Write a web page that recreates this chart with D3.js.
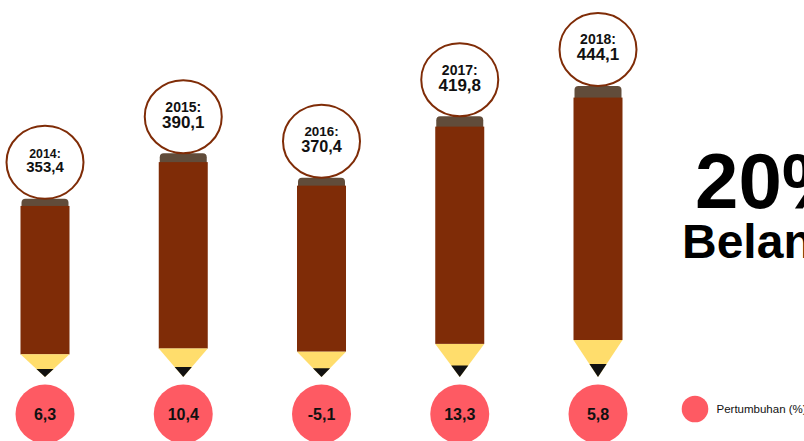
<!DOCTYPE html>
<html lang="id">
<head>
  <meta charset="UTF-8">
  <title>Anggaran Pendidikan</title>
  <style>
    body { margin: 0; background: #fff; overflow: hidden; }
    svg { display: block; font-family: "Liberation Sans", Arial, sans-serif; }
  </style>
</head>
<body>
  <svg id="svg" width="804" height="441"></svg>
  <script src="https://d3js.org/d3.v7.min.js"></script>
  <script>
    // data
    const years = ['2014', '2015', '2016', '2017', '2018']
    const values = [353.4, 390.1, 370.4, 419.8, 444.1]
    const growth = [6.3, 10.4, -5.1, 13.3, 5.8]
    const bigText = ['20%', 'Belanja']
    const legendLabel = 'Pertumbuhan (%)'

    const data = years.map((y, i) => ({ year: y, value: values[i], growth: growth[i] }))

    const idLocale = d3.formatLocale({ decimal: ',', thousands: '.', grouping: [3], currency: ['Rp', ''], minus: '-' })
    const fmt = idLocale.format('.1f')

    const brown = '#7f2c07'
    const eraser = '#614c3a'
    const wood = '#ffdd6c'
    const red = '#fe5a63'

    const svg = d3.select('#svg')

    // x scale: pencil centres
    const xscale = d3.scalePoint()
      .domain(years)
      .range([45, 598])

    // y scale: top of the pencil (eraser top), tip sits on a fixed line
    const tipY = 377
    const yscale = d3.scaleLinear()
      .domain([300, 450])
      .range([265.3, 78.6])

    // label size grows a little with the value
    const labelScale = d3.scaleLinear()
      .domain([353.4, 380])
      .range([0.88, 1])
      .clamp(true)

    const halfW = 24.5

    const pencils = svg.append('g')
      .selectAll('g')
      .data(data)
      .enter()
      .append('g')
      .attr('transform', d => `translate(${xscale(d.year)}, 0)`)

    pencils.each(function (d) {
      const g = d3.select(this)
      const top = yscale(d.value)
      const h = tipY - top
      const eraserH = h * 0.04
      const tipH = h * 0.127
      const bodyTop = top + eraserH
      const bodyBottom = tipY - tipH
      const leadH = tipH * 0.35
      const leadW = halfW * 0.35

      // eraser with rounded top corners
      const ew = halfW - 1, r = 4
      g.append('path')
        .attr('fill', eraser)
        .attr('d', `M${-ew},${bodyTop + 1} L${-ew},${top + r} Q${-ew},${top} ${-ew + r},${top}
          L${ew - r},${top} Q${ew},${top} ${ew},${top + r} L${ew},${bodyTop + 1} Z`)

      // body
      g.append('rect')
        .attr('x', -halfW)
        .attr('y', bodyTop)
        .attr('width', halfW * 2)
        .attr('height', bodyBottom - bodyTop)
        .attr('fill', brown)

      // wooden tip
      g.append('path')
        .attr('fill', wood)
        .attr('d', `M${-halfW},${bodyBottom} L${halfW},${bodyBottom} L0,${tipY} Z`)

      // lead
      g.append('path')
        .attr('fill', '#111')
        .attr('d', `M${-leadW},${tipY - leadH} L${leadW},${tipY - leadH} L0,${tipY} Z`)

      // value bubble
      const rx = 38.5, ry = 36.5
      const cy = top - ry
      g.append('ellipse')
        .attr('cx', 0)
        .attr('cy', cy)
        .attr('rx', rx)
        .attr('ry', ry)
        .attr('fill', '#fff')
        .attr('stroke', brown)
        .attr('stroke-width', 2)

      const k = labelScale(d.value)
      g.append('text')
        .attr('x', 0)
        .attr('y', cy - 5 * k)
        .attr('text-anchor', 'middle')
        .attr('font-weight', 'bold')
        .attr('font-size', 14 * k)
        .attr('fill', '#111')
        .text(d.year + ':')
      g.append('text')
        .attr('x', 0)
        .attr('y', cy + 11 * k)
        .attr('text-anchor', 'middle')
        .attr('font-weight', 'bold')
        .attr('font-size', 17 * k)
        .attr('fill', '#111')
        .text(fmt(d.value))

      // growth bubble
      g.append('circle')
        .attr('cx', 0)
        .attr('cy', 414)
        .attr('r', 29.5)
        .attr('fill', red)
      g.append('text')
        .attr('x', 0)
        .attr('y', 419.5)
        .attr('text-anchor', 'middle')
        .attr('font-weight', 'bold')
        .attr('font-size', 16)
        .attr('fill', '#111')
        .text(fmt(d.growth))
    })

    // big headline on the right (cut by the frame)
    svg.append('text')
      .attr('x', 695)
      .attr('y', 208)
      .attr('font-weight', 'bold')
      .attr('font-size', 78)
      .attr('fill', '#000')
      .text(bigText[0])
    svg.append('text')
      .attr('x', 682)
      .attr('y', 258)
      .attr('font-weight', 'bold')
      .attr('font-size', 48)
      .attr('fill', '#000')
      .text(bigText[1])

    // legend
    const legend = svg.append('g')
      .attr('transform', 'translate(695, 409)')
    legend.append('circle')
      .attr('r', 13.3)
      .attr('fill', red)
    legend.append('text')
      .attr('x', 21.5)
      .attr('y', 0)
      .attr('dy', '0.35em')
      .attr('font-size', 11.5)
      .attr('fill', '#111')
      .text(legendLabel)
  </script>
</body>
</html>
